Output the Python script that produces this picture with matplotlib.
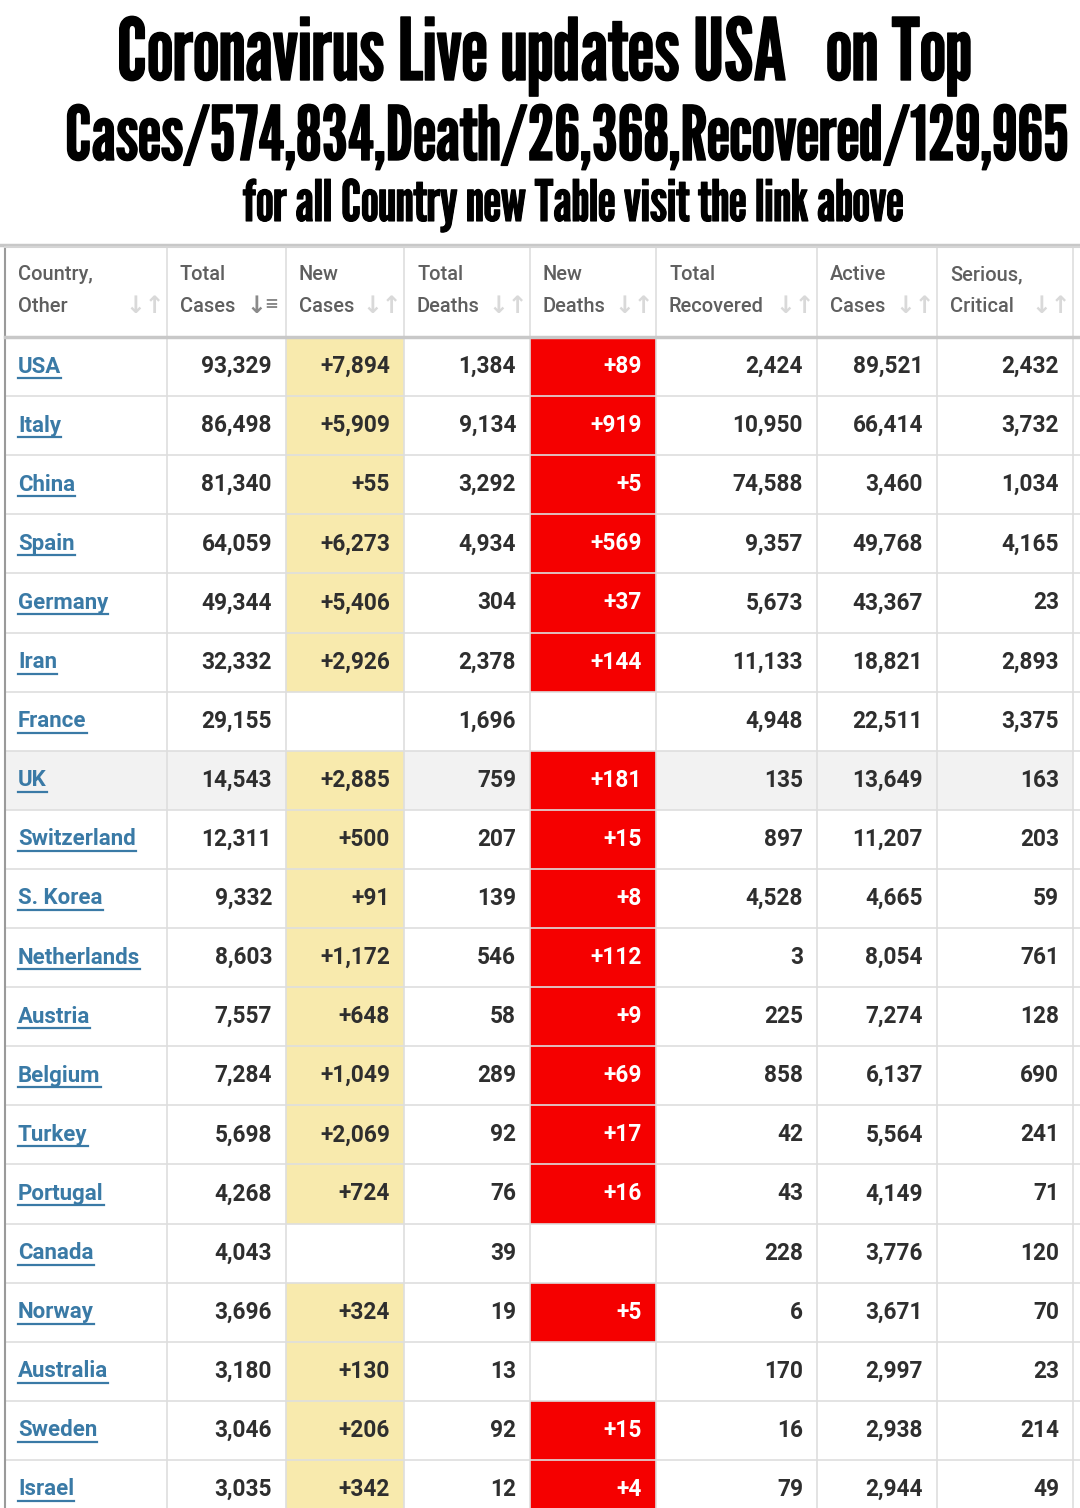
import matplotlib
matplotlib.use('Agg')

import matplotlib.pyplot as plt
import matplotlib.patheffects as pe
from matplotlib.patches import Rectangle

# Dados da tabela
countries = ['USA', 'Italy', 'China', 'Spain', 'Germany', 'Iran', 'France', 'UK',
             'Switzerland', 'S. Korea', 'Netherlands', 'Austria', 'Belgium', 'Turkey',
             'Portugal', 'Canada', 'Norway', 'Australia', 'Sweden', 'Israel']
total_cases = [93329, 86498, 81340, 64059, 49344, 32332, 29155, 14543, 12311, 9332,
               8603, 7557, 7284, 5698, 4268, 4043, 3696, 3180, 3046, 3035]
new_cases = [7894, 5909, 55, 6273, 5406, 2926, None, 2885, 500, 91,
             1172, 648, 1049, 2069, 724, None, 324, 130, 206, 342]
total_deaths = [1384, 9134, 3292, 4934, 304, 2378, 1696, 759, 207, 139,
                546, 58, 289, 92, 76, 39, 19, 13, 92, 12]
new_deaths = [89, 919, 5, 569, 37, 144, None, 181, 15, 8,
              112, 9, 69, 17, 16, None, 5, None, 15, 4]
total_recovered = [2424, 10950, 74588, 9357, 5673, 11133, 4948, 135, 897, 4528,
                   3, 225, 858, 42, 43, 228, 6, 170, 16, 79]
active_cases = [89521, 66414, 3460, 49768, 43367, 18821, 22511, 13649, 11207, 4665,
                8054, 7274, 6137, 5564, 4149, 3776, 3671, 2997, 2938, 2944]
serious_critical = [2432, 3732, 1034, 4165, 23, 2893, 3375, 163, 203, 59,
                    761, 128, 690, 241, 71, 120, 70, 23, 214, 49]
header_labels = [('Country,', 'Other'), ('Total', 'Cases'), ('New', 'Cases'),
                 ('Total', 'Deaths'), ('New', 'Deaths'), ('Total', 'Recovered'),
                 ('Active', 'Cases'), ('Serious,', 'Critical')]
title_lines = ['Coronavirus Live updates USA   on Top',
               'Cases/574,834,Death/26,368,Recovered/129,965',
               'for all Country new Table visit the link above']

# Layout em pixels
W, H = 1080, 1508
col_edges = [5, 167, 286, 404, 530, 656, 817, 937, 1073]
header_top, header_bot = 247, 337
row_h = 59.1
pad = 14

YELLOW = '#f8eaad'
RED = '#f50000'
GRID = '#dedede'
TXT = '#2e2e2e'
LINK = '#3a7aa6'
HEAD = '#5f5f5f'

fig = plt.figure(figsize=(W / 100, H / 100), dpi=100)
ax = fig.add_axes([0, 0, 1, 1])
ax.set_xlim(0, W)
ax.set_ylim(H, 0)
ax.axis('off')

BODY_FONT = ['Roboto', 'DejaVu Sans']
TITLE_FONT = ['League Gothic', 'DejaVu Sans']

renderer = fig.canvas.get_renderer()


def fit_text(text, xc, y_base, target_w, stroke):
    t = ax.text(xc, y_base, text, ha='center', va='baseline', fontsize=40,
                family=TITLE_FONT, color='black')
    w = t.get_window_extent(renderer).width
    t.set_fontsize(40 * (target_w - stroke) / w)
    t.set_path_effects([pe.withStroke(linewidth=stroke, foreground='black')])
    return t


# Título
fit_text(title_lines[0], 544, 80, 855, 1.0)
fit_text(title_lines[1], 567, 160, 1005, 1.0)
fit_text(title_lines[2], 573, 221, 660, 0.8)

# Linha de sombra acima da tabela
ax.plot([0, W], [245, 245], color='#c8c8c8', lw=2.5)

n = len(countries)
row_top = [header_bot + i * row_h for i in range(n)]

# Fundos das linhas e células destacadas
for i in range(n):
    y0 = row_top[i]
    if countries[i] == 'UK':
        ax.add_patch(Rectangle((col_edges[0], y0), col_edges[-1] - col_edges[0], row_h,
                               facecolor='#f2f2f2', edgecolor='none'))
    if new_cases[i] is not None:
        ax.add_patch(Rectangle((col_edges[2], y0), col_edges[3] - col_edges[2], row_h,
                               facecolor=YELLOW, edgecolor='none'))
    if new_deaths[i] is not None:
        ax.add_patch(Rectangle((col_edges[4], y0), col_edges[5] - col_edges[4], row_h,
                               facecolor=RED, edgecolor='none'))

# Grade
for i in range(n + 1):
    y = header_bot + i * row_h
    ax.plot([col_edges[0], W], [y, y], color=GRID, lw=1.2, zorder=2)
for x in col_edges[1:-1]:
    ax.plot([x, x], [header_top, H], color=GRID, lw=1.2, zorder=2)
ax.plot([col_edges[-1], col_edges[-1]], [header_top, H], color=GRID, lw=1.2, zorder=2)
ax.plot([col_edges[0], col_edges[0]], [header_top, H], color='#9a9a9a', lw=1.5, zorder=3)
ax.plot([col_edges[0], W], [header_top, header_top], color='#d5d5d5', lw=1.5, zorder=3)
ax.plot([col_edges[0], W], [header_bot, header_bot], color='#c8c8c8', lw=2.5, zorder=3)

# Cabeçalho
for j, (l1, l2) in enumerate(header_labels):
    x0 = col_edges[j] + 13
    ax.text(x0, 275, l1, ha='left', va='center', fontsize=14.4, fontweight='medium',
            family=BODY_FONT, color=HEAD)
    ax.text(x0, 306, l2, ha='left', va='center', fontsize=14.4, fontweight='medium',
            family=BODY_FONT, color=HEAD)
    xi = col_edges[j + 1] - 22
    if j == 1:
        ax.text(xi + 2, 306, '↓', ha='right', va='center', fontsize=17,
                family=['DejaVu Sans'], color='#8a8a8a', fontweight='bold')
        ax.text(xi, 304, '≡', ha='left', va='center', fontsize=12,
                family=['DejaVu Sans'], color='#8a8a8a', fontweight='bold')
    else:
        ax.text(xi, 306, '↓↑', ha='center', va='center', fontsize=17,
                family=['DejaVu Sans'], color='#d9d9d9', fontweight='bold')


def fmt(v, plus=False):
    if v is None:
        return ''
    s = f'{v:,}'
    return '+' + s if plus else s


columns = [total_cases, new_cases, total_deaths, new_deaths,
           total_recovered, active_cases, serious_critical]
plus_cols = {1, 3}

for i in range(n):
    yc = row_top[i] + row_h / 2
    t = ax.text(col_edges[0] + 13, yc, countries[i], ha='left', va='center',
                fontsize=16, fontweight='bold', family=BODY_FONT, color=LINK, zorder=4)
    bb = t.get_window_extent(renderer).transformed(ax.transData.inverted())
    ax.plot([bb.x0, bb.x1], [yc + 11.5, yc + 11.5], color=LINK, lw=1.6, zorder=4)
    for j, col in enumerate(columns):
        s = fmt(col[i], j in plus_cols)
        if not s:
            continue
        color = 'white' if j == 3 else TXT
        ax.text(col_edges[j + 2] - pad, yc, s, ha='right', va='center',
                fontsize=16.3, fontweight='bold', family=BODY_FONT, color=color, zorder=4)

fig.savefig('out.png', dpi=100)
